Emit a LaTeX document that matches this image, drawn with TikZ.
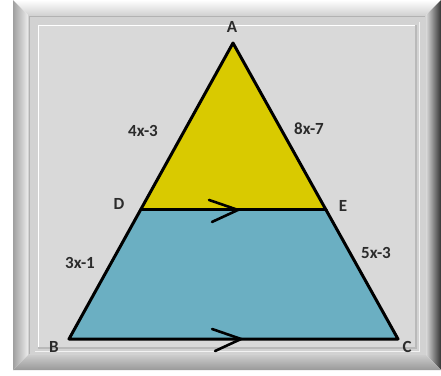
\documentclass[tikz,border=0pt]{standalone}
\usepackage{fontspec}
\setmainfont{Carlito}
\usetikzlibrary{calc}
\definecolor{panel}{HTML}{D9D9D9}
\definecolor{band}{HTML}{D2D2D2}
\definecolor{yel}{HTML}{D9CA00}
\definecolor{blu}{HTML}{6BAFC2}
\definecolor{lab}{HTML}{2B2B2B}
\begin{document}
\begin{tikzpicture}[x=1pt,y=-1pt,
  edge/.style={line width=3pt, line join=round, line cap=round},
  chev/.style={line width=2.6pt, line join=miter, line cap=round},
  lbl/.style={text=lab, font=\fontsize{17}{20}\selectfont\bfseries, inner sep=0pt}]
\useasboundingbox (0,0) rectangle (441,375);
\fill[white] (0,0) rectangle (441,375);
% frame bevels
\shade[top color=white, bottom color=gray!35] (13,0) -- (441,0) -- (426,15) -- (28,15) -- cycle;
\shade[left color=gray!75, right color=gray!15] (13,0) -- (28,15) -- (28,355) -- (13,370) -- cycle;
\shade[left color=gray!30, right color=black!80] (441,0) -- (441,370) -- (426,355) -- (426,15) -- cycle;
\shade[top color=gray!40, bottom color=gray!80] (13,370) -- (28,355) -- (426,355) -- (441,370) -- cycle;
\fill[band] (28,15) rectangle (426,355);
\draw[gray!60, line width=0.8pt] (29,354) -- (29,16) -- (425,16);
\draw[white!90!gray, line width=0.8pt] (35,351) -- (419,351) -- (419,22);
\fill[panel] (38,25) rectangle (416,348);
\draw[white, line width=1pt] (38,348) -- (38,25) -- (416,25);
\draw[gray!55, line width=1.2pt] (416,25) -- (416,348) -- (38,348);
% triangle
\coordinate (A) at (233,43);
\coordinate (B) at (69,339);
\coordinate (C) at (398,339);
\coordinate (D) at ($(A)!0.564!(B)$);
\coordinate (E) at ($(A)!0.564!(C)$);
\fill[yel] (A) -- (D) -- (E) -- cycle;
\fill[blu] (D) -- (B) -- (C) -- (E) -- cycle;
\draw[edge] (A) -- (B) -- (C) -- cycle;
\draw[edge] (D) -- (E);
% parallel marks
\coordinate (m1) at ($(D)!0.52!(E)$);
\coordinate (m2) at ($(B)!0.52!(C)$);
\draw[chev] ($(m1)+(-28,-10)$) -- ($(m1)+(1,0)$) -- ($(m1)+(-25,12)$);
\draw[chev] ($(m2)+(-28,-10)$) -- ($(m2)+(1,0)$) -- ($(m2)+(-25,12)$);
% labels
\node[lbl] (lA) at (232,27) {A};
\node[lbl] (lB) at (54,347) {B};
\node[lbl] (lC) at (407,347) {C};
\node[lbl] (lD) at (119,204) {D};
\node[lbl] (lE) at (343,206) {E};
\node[lbl] (lAD) at (143,131) {4x-3};
\node[lbl] (lAE) at (309,129) {8x-7};
\node[lbl] (lDB) at (80,263) {3x-1};
\node[lbl] (lEC) at (376,253) {5x-3};
\end{tikzpicture}
\end{document}
